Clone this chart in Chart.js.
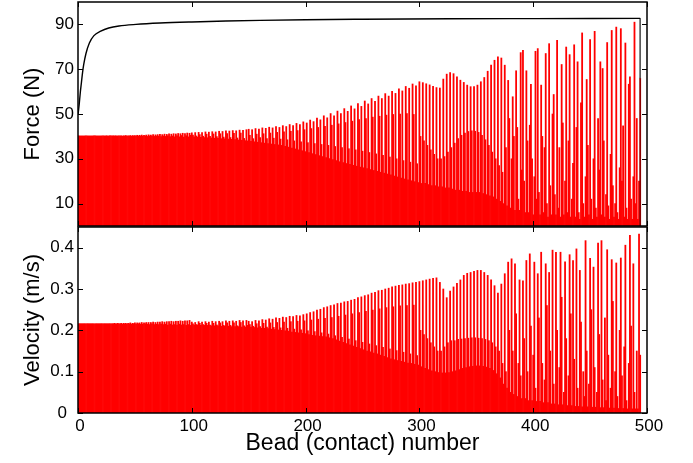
<!DOCTYPE html>
<html><head><meta charset="utf-8">
<script src="https://cdn.jsdelivr.net/npm/chart.js@4/dist/chart.umd.min.js"></script>
<style>
html,body{margin:0;padding:0;background:#fff;}
#wrap{position:relative;width:693px;height:463px;overflow:hidden;background:#fff;}
#c1{position:absolute;left:0;top:0;}
#c2{position:absolute;left:0;top:226px;}
</style></head><body>
<div id="wrap"><canvas id="c1" width="693" height="228"></canvas><canvas id="c2" width="693" height="237"></canvas></div>
<script>
// ---- tick labels ----
const beadTicks = [0, 100, 200, 300, 400, 500];
const forceTicks = [10, 30, 50, 70, 90];
const velocityTicks = [0, 0.1, 0.2, 0.3, 0.4];

// ---- contact force on each bead (N), beads 0..494 ----
const forceA = [ // beads 0-99
40.2,40.2,40.2,40.2,40.2,40.2,40.2,40.2,40.2,40.2,
40.2,40.2,40.2,40.2,40.2,40.2,40.2,40.2,40.2,40.2,
40.2,40.2,40.2,40.2,40.2,40.3,40.2,40.2,40.3,40.2,
40.2,40.3,40.2,40.3,40.2,40.2,40.3,40.2,40.3,40.1,
40.3,40.2,40.4,40.1,40.3,40.2,40.4,40.1,40.4,40.2,
40.4,40.1,40.5,40.1,40.5,40.2,40.6,40.1,40.5,40.2,
40.6,40.0,40.7,40.2,40.6,40.1,40.8,40.0,40.7,40.2,
40.8,40.1,40.9,39.9,40.8,40.2,41.0,40.0,40.9,40.3,
41.1,39.9,41.0,40.2,41.2,39.8,41.1,40.3,41.3,39.8,
41.2,40.4,41.4,39.7,41.3,40.3,41.5,39.8,41.4,40.5];
const forceB = [ // beads 100-149
41.6,40.6,39.8,41.7,40.2,39.7,41.8,40.8,39.6,41.7,
40.1,39.5,42.0,41.0,39.4,41.9,40.0,39.3,42.1,41.1,
39.2,42.0,39.9,39.1,42.3,41.2,39.0,42.2,39.7,38.9,
42.5,41.3,38.8,42.4,39.5,38.7,42.6,41.4,38.6,42.5,
39.3,38.4,42.8,41.5,38.3,42.7,39.1,38.1,43.0,38.0];
const forceC = [ // beads 150-299
43.2,40.5,37.8, 43.0,39.0,37.6,
43.5,41.0,37.4, 43.3,39.5,37.2,
43.8,41.2,37.0, 43.6,39.0,36.8,
44.1,41.5,36.6, 43.8,39.2,36.4,
44.4,41.8,36.2, 44.0,38.8,36.0,
44.8,42.0,35.6, 44.4,38.5,35.2,
45.3,42.3,34.8, 44.8,38.0,34.4,
45.8,42.6,34.0, 45.3,37.6,33.6,
46.5,43.0,33.2, 46.0,37.2,32.8,
47.3,43.5,32.3, 46.6,36.8,31.9,
48.2,44.0,31.4, 47.4,36.4,31.0,
49.2,44.5,30.5, 48.3,36.0,30.1,
50.2,45.0,29.6, 49.2,35.5,29.2,
51.3,45.6,28.7, 50.2,35.0,28.3,
52.4,46.2,27.9, 51.2,34.5,27.5,
53.6,46.8,27.1, 52.3,34.0,26.7,
54.7,47.5,26.3, 53.4,33.4,26.0,
55.8,48.0,25.6, 54.5,32.8,25.2,
56.9,48.6,24.8, 55.7,32.2,24.4,
58.0,49.0,24.0, 56.9,31.5,23.6,
59.1,49.5,23.2, 58.0,30.8,22.8,
60.1,49.8,22.3, 59.2,30.0,21.9,
61.2,50.0,21.4, 60.3,29.2,21.0,
62.3,50.2,20.6, 61.5,28.5,20.2,
63.4,49.8,19.8, 62.6,27.8,19.4];
const forceD = [ // beads 300-494
64.4,40,19,64.0,38,19,63.5,36,18.5,63.0,
34,18,62.3,32,18,61.8,30,17.5,61.6,30,
17.5,65.6,31,17,67.8,33,17,68.5,35,16.5,
68.0,37,16,66.6,39,16,65.1,40.5,15.5,64.1,
41.5,15.5,62.9,42.2,15,62.2,42.5,15,62.2,42.3,
15,62.9,41.8,15,64.4,40.5,14.5,66.3,38.5,14,
69.1,36,13.5,71.8,33,13,74.0,30,12,75.5,
27,11,75.0,24,10,71.8,35,9,65.0,48,
8,30,57.7,40,7,69.3,44,12,7,77.4,
25,78.4,20,6,69.3,38,6,45,63.2,30,
5,22,78.0,12,79.2,15,5,62.9,40,6,
35,77.0,10,4,81.4,18,5,50,58.7,14,
5,82.9,8,35,4,72.1,46,5,20,79.9,
6,38,76.5,4,12,28,80.9,4,44,73.3,
6,3,55,86.2,10,4,22,65.4,36,5,
83.2,12,3,30,86.9,8,4,48,25,73.3,
5,70.3,38,4,14,81.9,9,3,32,87.3,
18,4,10,88.8,6,3,26,88.1,20,44.7,
4,81.7,8,3,63.3,66.6,12,3,22,91.0,
10,48,3,20,66];

// ---- bead velocity (m/s), beads 0..494 ----
const velocityA = [ // beads 0-99
.216,.216,.216,.216,.216,.216,.216,.216,.216,.216,
.216,.216,.216,.216,.216,.216,.216,.216,.216,.216,
.216,.216,.216,.216,.216,.216,.216,.216,.216,.216,
.216,.216,.217,.216,.216,.217,.216,.216,.217,.215,
.217,.216,.217,.215,.217,.216,.218,.215,.217,.216,
.218,.215,.218,.216,.218,.215,.219,.215,.218,.216,
.219,.215,.219,.214,.219,.216,.220,.214,.219,.215,
.220,.214,.220,.215,.221,.214,.220,.215,.221,.213,
.221,.215,.222,.213,.221,.214,.222,.213,.222,.215,
.223,.213,.222,.214,.223,.212,.223,.214,.224,.212];
const velocityB = [ // beads 100-149
.220,.216,.213,.219,.214,.213,.221,.217,.212,.220,
.214,.212,.221,.217,.212,.220,.213,.211,.222,.217,
.211,.221,.213,.211,.222,.218,.210,.221,.212,.210,
.223,.218,.210,.222,.212,.209,.223,.218,.209,.222,
.211,.209,.224,.219,.208,.223,.211,.208,.224,.212];
const velocityC = [ // beads 150-299
.222,.214,.208, .221,.210,.207,
.224,.216,.206, .223,.209,.205,
.226,.217,.205, .225,.208,.204,
.228,.218,.203, .227,.207,.202,
.230,.219,.201, .229,.206,.200,
.232,.220,.199, .231,.205,.198,
.234,.221,.196, .233,.203,.195,
.236,.222,.194, .235,.201,.193,
.238,.223,.192, .240,.199,.190,
.243,.225,.188, .245,.197,.187,
.249,.227,.186, .251,.194,.185,
.255,.229,.184, .257,.191,.182,
.260,.231,.180, .262,.187,.177,
.265,.234,.174, .266,.183,.171,
.269,.237,.168, .270,.179,.165,
.273,.240,.162, .275,.175,.159,
.279,.243,.156, .281,.171,.153,
.284,.246,.150, .286,.167,.148,
.290,.249,.145, .292,.163,.143,
.296,.252,.140, .297,.159,.137,
.300,.255,.134, .302,.155,.131,
.305,.257,.129, .307,.151,.127,
.309,.259,.125, .310,.147,.123,
.312,.260,.121, .313,.143,.120,
.315,.261,.118, .316,.139,.116];
const velocityD = [ // beads 300-494
.318,.20,.112,.320,.19,.108,.322,.18,.105,.324,
.17,.102,.326,.16,.100,.327,.15,.098,.316,.15,
.097,.300,.16,.097,.279,.17,.098,.295,.175,.100,
.305,.175,.102,.314,.178,.105,.322,.179,.108,.333,
.180,.110,.338,.181,.112,.340,.182,.113,.343,.182,
.114,.345,.181,.114,.345,.180,.113,.340,.178,.111,
.333,.175,.108,.322,.170,.103,.308,.160,.095,.290,
.150,.085,.312,.120,.070,.337,.100,.060,.365,.200,
.050,.373,.150,.045,.361,.240,.040,.120,.322,.090,
.035,.320,.180,.035,.369,.100,.030,.385,.210,.030,
.140,.365,.060,.028,.337,.230,.028,.389,.120,.025,
.080,.361,.260,.025,.340,.150,.022,.394,.070,.022,
.389,.200,.020,.110,.389,.280,.020,.050,.366,.180,
.018,.090,.383,.240,.018,.369,.130,.016,.397,.060,
.016,.345,.220,.015,.100,.040,.417,.150,.015,.070,
.374,.250,.014,.353,.110,.014,.050,.411,.190,.013,
.417,.080,.013,.230,.030,.395,.140,.012,.060,.371,
.270,.012,.100,.363,.040,.011,.200,.375,.090,.011,
.160,.406,.030,.010,.120,.430,.210,.010,.361,.050,
.010,.150,.010,.433,.140];

// ---- black curve (force, N) ----
const curveBead  = [0,1,2,3,4,5,7,10,14,20,27,36,51,72,100,130,160,200,250,327,400,494];
const curveForce = [49.6,54,59.5,64,68.5,72,77,81.7,85,87,88.4,89.3,90,90.6,91.1,91.5,91.8,92.1,92.3,92.5,92.6,92.7];
const dropBead  = [494, 494];
const dropForce = [92.7, 66];

const force = [].concat(forceA, forceB, forceC, forceD);
const velocity = [].concat(velocityA, velocityB, velocityC, velocityD);

const FONT = "'Liberation Sans', Arial, sans-serif";
const RED = '#ff0000';

const framePlugin = {
  id: 'frame',
  afterDraw(chart) {
    const {ctx, chartArea: a, scales} = chart;
    ctx.save();
    ctx.strokeStyle = '#000';
    ctx.lineWidth = 1.5;
    ctx.strokeRect(a.left, a.top, a.right - a.left, a.bottom - a.top);
    ctx.lineWidth = 1;
    ctx.beginPath();
    scales.y.ticks.forEach(t => {
      const p = Math.round(scales.y.getPixelForValue(t.value)) + 0.5;
      ctx.moveTo(a.left, p); ctx.lineTo(a.left + 5, p);
      ctx.moveTo(a.right, p); ctx.lineTo(a.right - 5, p);
    });
    beadTicks.forEach(v => {
      const p = Math.round(scales.x.getPixelForValue(v)) + 0.5;
      ctx.moveTo(p, a.top); ctx.lineTo(p, a.top + 5);
      ctx.moveTo(p, a.bottom); ctx.lineTo(p, a.bottom - 5);
    });
    ctx.stroke();
    ctx.restore();
  }
};

function yScale(min, max, ticks, title) {
  return {
    min, max,
    afterBuildTicks: s => { s.ticks = ticks.map(v => ({value: v})); },
    afterFit: s => { s.width = 78; s.paddingTop = 0; s.paddingBottom = 0; },
    grid: {display: false, drawTicks: false},
    border: {display: false},
    ticks: {color: '#000', font: {family: FONT, size: 17}, padding: 4, crossAlign: 'center', autoSkip: false},
    title: {display: true, text: title, color: '#000', font: {family: FONT, size: 22}, padding: {top: 20, bottom: 0}}
  };
}

function barSet(values, lastColor) {
  return {
    type: 'bar',
    data: values.map((v, i) => ({x: i, y: v})),
    backgroundColor: c => c.dataIndex === values.length - 1 ? lastColor : RED,
    borderWidth: 0,
    barPercentage: 1,
    categoryPercentage: 1,
    order: 2
  };
}

const common = {
  responsive: false,
  animation: false,
  devicePixelRatio: 1,
  events: [],
  plugins: {legend: {display: false}, tooltip: {enabled: false}}
};

new Chart(document.getElementById('c1'), {
  type: 'bar',
  data: {
    datasets: [
      {type: 'line', data: curveBead.map((b, i) => ({x: b, y: curveForce[i]})), borderColor: '#000', borderWidth: 1.4,
       pointRadius: 0, cubicInterpolationMode: 'monotone', fill: false, order: 0},
      {type: 'line', data: dropBead.map((b, i) => ({x: b, y: dropForce[i]})), borderColor: '#555', borderWidth: 1,
       pointRadius: 0, fill: false, order: 1},
      barSet(force, '#8a0000')
    ]
  },
  options: Object.assign({}, common, {
    layout: {padding: {left: 0, right: 46, top: 2, bottom: 2}},
    scales: {
      x: {type: 'linear', min: 0, max: 500, offset: false, display: false},
      y: yScale(0, 100, forceTicks, 'Force (N)')
    }
  }),
  plugins: [framePlugin]
});

new Chart(document.getElementById('c2'), {
  type: 'bar',
  data: {datasets: [barSet(velocity, RED)]},
  options: Object.assign({}, common, {
    layout: {padding: {left: 0, right: 46, top: 1, bottom: 0}},
    scales: {
      x: {
        type: 'linear', min: 0, max: 500, offset: false,
        afterBuildTicks: s => { s.ticks = beadTicks.map(v => ({value: v})); },
        afterFit: s => { s.height = 50; s.paddingLeft = 0; s.paddingRight = 0; },
        grid: {display: false, drawTicks: false},
        border: {display: false},
        ticks: {color: '#000', font: {family: FONT, size: 17}, padding: 3, maxRotation: 0, autoSkip: false, labelOffset: 2},
        title: {display: true, text: 'Bead (contact) number', color: '#000', font: {family: FONT, size: 23}, padding: {top: 0, bottom: 6}}
      },
      y: yScale(0, 0.45, velocityTicks, 'Velocity (m/s)')
    }
  }),
  plugins: [framePlugin]
});
</script>
</body></html>
